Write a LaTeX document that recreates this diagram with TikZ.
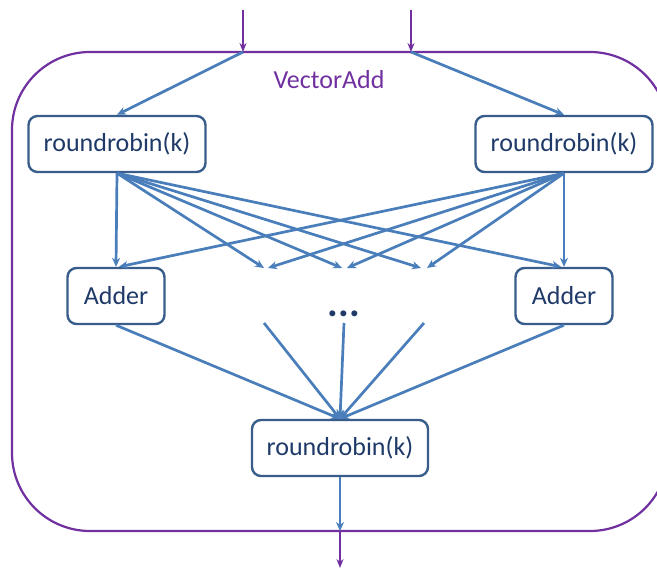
\documentclass[tikz,border=0pt]{standalone}
\usepackage{fontspec}
\setmainfont{Carlito}
\usetikzlibrary{arrows.meta}
\definecolor{lblue}{HTML}{4A7EBB}
\definecolor{dblue}{HTML}{385D8A}
\definecolor{tblue}{HTML}{1F3A68}
\definecolor{vpurple}{HTML}{7030A0}
\tikzset{
  procbox/.style={draw=dblue, line width=2.4pt, rounded corners=9pt, fill=white,
    text=tblue, font=\fontsize{26}{28}\selectfont, minimum height=56pt, inner sep=0pt},
  conn/.style={draw=lblue, line width=2.7pt, -{Stealth[length=9pt,width=8pt]}},
  pconn/.style={draw=vpurple, line width=1.9pt, -{Stealth[length=9pt,width=7pt]}},
}
\begin{document}
\begin{tikzpicture}[x=1pt,y=-1pt]
\useasboundingbox (0,0) rectangle (657,568);
% outer container
\draw[vpurple, line width=2.2pt, rounded corners=78pt] (12,52) rectangle (668,531);
\node[text=vpurple, font=\fontsize{26}{28}\selectfont] (title) at (329,80) {VectorAdd};
% nodes
\node[procbox, minimum width=177pt] (rrL) at (117,144) {roundrobin(k)};
\node[procbox, minimum width=177pt] (rrR) at (564,144) {roundrobin(k)};
\node[procbox, minimum width=97pt] (addL) at (116,296) {Adder};
\node[procbox, minimum width=97pt] (addR) at (564,296) {Adder};
\node[procbox, minimum width=176pt] (rrB) at (340,448) {roundrobin(k)};
\node[text=tblue, font=\fontsize{40}{40}\selectfont\bfseries, anchor=base] (dots) at (344,316) {...};
% coordinates
\coordinate (inLtop) at (243,10);
\coordinate (inL) at (243,52);
\coordinate (inRtop) at (411,10);
\coordinate (inR) at (411,52);
\coordinate (a1) at (264,268);
\coordinate (a2) at (342,268);
\coordinate (a3) at (421,268);
\coordinate (b1) at (268,268);
\coordinate (b2) at (347,268);
\coordinate (b3) at (427,268);
\coordinate (s1) at (264,323);
\coordinate (s2) at (344,323);
\coordinate (s3) at (424,323);
\coordinate (outB) at (340,531);
\coordinate (outEnd) at (340,568);
% inputs
\draw[pconn] (inLtop) -- (inL);
\draw[pconn] (inRtop) -- (inR);
\draw[conn] (inL) -- (rrL.north);
\draw[conn] (inR) -- (rrR.north);
% fan out left
\draw[conn] (rrL.south) -- (addL.north);
\draw[conn] (rrL.south) -- (a1);
\draw[conn] (rrL.south) -- (a2);
\draw[conn] (rrL.south) -- (a3);
\draw[conn] (rrL.south) -- ([xshift=-3pt]addR.north);
% fan out right
\draw[conn] (rrR.south) -- (addR.north);
\draw[conn] (rrR.south) -- (b1);
\draw[conn] (rrR.south) -- (b2);
\draw[conn] (rrR.south) -- (b3);
\draw[conn] (rrR.south) -- ([xshift=3pt]addL.north);
% fan in
\draw[conn] (addL.south) -- (rrB.north);
\draw[conn] (s1) -- (rrB.north);
\draw[conn] (s2) -- (rrB.north);
\draw[conn] (s3) -- (rrB.north);
\draw[conn] (addR.south) -- (rrB.north);
% output
\draw[conn] (rrB.south) -- (outB);
\draw[pconn] (outB) -- (outEnd);
\end{tikzpicture}
\end{document}
